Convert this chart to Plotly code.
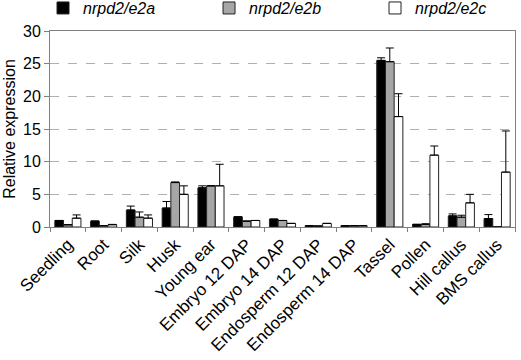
import plotly.graph_objects as go

categories = ["Seedling", "Root", "Silk", "Husk", "Young ear", "Embryo 12 DAP",
              "Embryo 14 DAP", "Endosperm 12 DAP", "Endosperm 14 DAP", "Tassel",
              "Pollen", "Hill callus", "BMS callus"]

e2a = [1.0, 0.9, 2.6, 2.9, 6.0, 1.55, 1.2, 0.2, 0.2, 25.5, 0.4, 1.7, 1.3]
e2a_err = [0.0, 0.0, 0.6, 1.0, 0.3, 0.0, 0.0, 0.0, 0.0, 0.4, 0.0, 0.3, 0.6]

e2b = [0.35, 0.2, 1.5, 6.8, 6.3, 0.9, 1.0, 0.15, 0.2, 25.3, 0.4, 1.5, 0.0]
e2b_err = [0.0, 0.0, 0.8, 0.1, 0.0, 0.0, 0.0, 0.0, 0.0, 2.1, 0.1, 0.3, 0.0]

e2c = [1.35, 0.35, 1.35, 5.0, 6.3, 1.0, 0.55, 0.55, 0.2, 16.9, 11.0, 3.7, 8.4]
e2c_err = [0.5, 0.05, 0.5, 1.3, 3.3, 0.0, 0.0, 0.0, 0.0, 3.5, 1.4, 1.3, 6.3]

series_names = ["nrpd2/e2a", "nrpd2/e2b", "nrpd2/e2c"]
fills = ["#000000", "#a6a6a6", "#ffffff"]

fig = go.Figure()
for name, vals, errs, col in zip(series_names, [e2a, e2b, e2c], [e2a_err, e2b_err, e2c_err], fills):
    fig.add_trace(go.Bar(
        x=categories, y=vals, name=name,
        marker=dict(color=col, line=dict(color="#222222", width=1)),
        error_y=dict(type="data", array=errs, symmetric=False, arrayminus=[0]*len(errs),
                     color="#000000", thickness=1, width=4),
    ))

fig.update_layout(
    width=521, height=360,
    margin=dict(l=50, r=6, t=31, b=133, autoexpand=False),
    paper_bgcolor="white", plot_bgcolor="white",
    barmode="group", bargap=0.27, bargroupgap=0,
    font=dict(family="Liberation Sans, Arial, sans-serif", size=16, color="#000000"),
    showlegend=True,
    legend=dict(orientation="h", x=-0.015, y=1.117, xanchor="left", yanchor="middle",
                font=dict(size=16, style="italic"), entrywidth=121, entrywidthmode="pixels",
                itemwidth=30, bgcolor="rgba(0,0,0,0)", tracegroupgap=0),
    xaxis=dict(tickangle=-45, showline=True, linecolor="#808080", mirror=True,
               ticks="outside", ticklen=4, tickcolor="#808080", automargin=False,
               tickson="boundaries", tickfont=dict(size=17)),
    yaxis=dict(range=[0, 30], dtick=5, showline=True, linecolor="#808080", mirror=True,
               ticks="outside", ticklen=5, tickcolor="#808080", automargin=False,
               showgrid=True, gridcolor="#b0b0b0", griddash="dash", gridwidth=1,
               zeroline=False,
               title=dict(text="Relative expression", font=dict(size=16), standoff=3),
               tickfont=dict(size=16)),
)

fig.write_html("out.html", config={"displayModeBar": False},
               post_script="document.body.style.margin='0';")
